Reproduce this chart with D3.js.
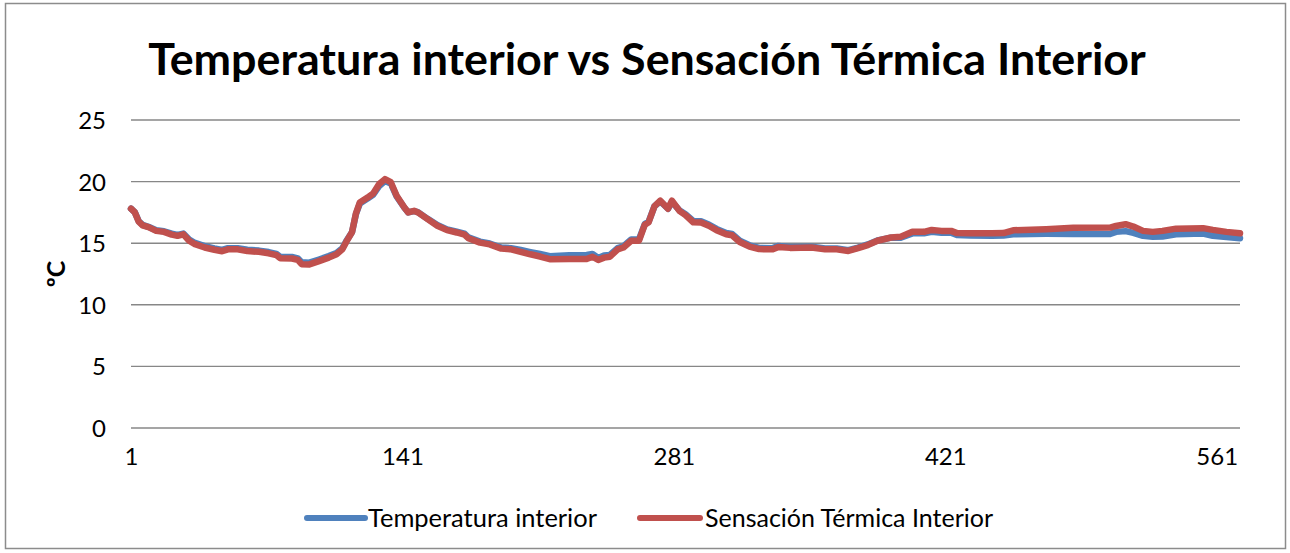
<!DOCTYPE html>
<html>
<head>
<meta charset="utf-8">
<script src="https://cdn.jsdelivr.net/npm/d3@7"></script>
<style>
  html, body { margin: 0; padding: 0; background: #fff; }
  svg { display: block; font-family: Lato, "Open Sans", sans-serif; }
</style>
</head>
<body>
<svg id="chart" width="1290" height="553"></svg>
<script>
// Reading number (x) for each recorded sample
const indices = [1,3,5,7,10,14,18,22,25,28,31,34,39,44,48,51,56,61,67,72,76,78,84,87,89,93,98,103,107,110,
  112,115,117,119,123,126,129,132,135,138,142,144,147,149,154,159,164,169,173,175,181,186,192,197,202,207,212,217,227,236,
  239,242,245,248,252,255,259,263,266,268,271,274,278,280,284,287,291,295,299,303,308,311,315,320,325,332,335,341,352,359,
  365,371,376,381,386,393,398,404,410,414,419,424,427,434,445,451,456,473,487,506,509,514,518,523,528,533,540,554,559,566,573];

// Temperatura interior (ºC)
const tempInterior = [17.8,17.5,16.78,16.48,16.33,16.05,15.97,15.77,15.67,15.78,15.3,15.02,14.76,14.58,14.46,14.6,14.6,14.47,14.4,14.28,14.13,13.9,13.88,13.77,13.45,13.42,13.68,13.95,14.2,14.58,
  15.15,15.9,17.35,18.22,18.62,18.95,19.65,20.05,19.85,18.8,17.88,17.5,17.6,17.52,16.98,16.48,16.12,15.93,15.77,15.48,15.13,14.98,14.65,14.6,14.45,14.28,14.12,13.95,14.02,14.05,
  14.12,13.8,14.0,14.05,14.6,14.75,15.3,15.3,16.55,16.75,18.0,18.4,17.8,18.35,17.65,17.35,16.8,16.78,16.52,16.16,15.83,15.75,15.2,14.83,14.62,14.6,14.78,14.7,14.72,14.57,
  14.57,14.43,14.65,14.9,15.22,15.45,15.45,15.8,15.8,15.92,15.85,15.85,15.66,15.62,15.6,15.62,15.72,15.76,15.75,15.75,15.92,15.98,15.84,15.6,15.52,15.55,15.73,15.78,15.6,15.5,15.4];

// Sensación Térmica Interior (ºC)
const sensTermica = [17.8,17.5,16.75,16.45,16.3,16.0,15.92,15.7,15.6,15.72,15.2,14.92,14.65,14.47,14.35,14.5,14.5,14.36,14.3,14.18,14.03,13.78,13.76,13.65,13.3,13.28,13.55,13.83,14.1,14.5,
  15.1,15.9,17.4,18.3,18.7,19.05,19.8,20.2,19.95,18.85,17.9,17.5,17.63,17.5,16.95,16.42,16.06,15.87,15.7,15.4,15.05,14.9,14.56,14.5,14.3,14.1,13.92,13.7,13.72,13.72,
  13.9,13.64,13.83,13.9,14.5,14.65,15.2,15.2,16.5,16.7,18.0,18.45,17.8,18.45,17.6,17.28,16.7,16.68,16.42,16.06,15.73,15.65,15.1,14.73,14.52,14.5,14.7,14.62,14.65,14.5,
  14.5,14.37,14.6,14.85,15.2,15.46,15.52,15.92,15.92,16.08,16.0,16.0,15.82,15.8,15.8,15.82,16.05,16.14,16.25,16.27,16.4,16.54,16.35,16.0,15.92,16.0,16.18,16.22,16.08,15.92,15.8];

const xTicks = [1, 141, 281, 421, 561];
const yTicks = [0, 5, 10, 15, 20, 25];
const seriesNames = ["Temperatura interior", "Sensación Térmica Interior"];
const seriesColors = ["#4F81BD", "#C0504D"];
const titleText = "Temperatura interior vs Sensación Térmica Interior";
const yLabel = "ºC";

const svg = d3.select("#chart");

// outer chart frame
svg.append("rect")
  .attr("x", 5.5).attr("y", 3.5)
  .attr("width", 1280).attr("height", 545)
  .attr("fill", "#fff").attr("stroke", "#8c8c8c").attr("stroke-width", 1.5);

const plot = { left: 131, right: 1240, top: 120, bottom: 428 };

const x = d3.scaleLinear().domain([1, 573]).range([plot.left, plot.right]);
const y = d3.scaleLinear().domain([0, 25]).range([plot.bottom, plot.top]);

// horizontal gridlines
svg.append("g")
  .selectAll("line")
  .data(yTicks)
  .join("line")
  .attr("x1", plot.left).attr("x2", plot.right)
  .attr("y1", d => y(d)).attr("y2", d => y(d))
  .attr("stroke", "#878787").attr("stroke-width", 1.4);

// y axis labels
const yAxis = d3.axisLeft(y).tickValues(yTicks).tickSize(0).tickPadding(0);
const gy = svg.append("g").attr("transform", `translate(${plot.left - 25},0)`).call(yAxis);
gy.select(".domain").remove();
gy.selectAll("text")
  .attr("font-family", "Lato, sans-serif")
  .attr("font-size", 24).attr("fill", "#000").attr("dy", "0.35em");

// x axis labels
const xAxis = d3.axisBottom(x).tickValues(xTicks).tickSize(0).tickPadding(0);
const gx = svg.append("g").attr("transform", `translate(0,${plot.bottom + 20})`).call(xAxis);
gx.select(".domain").remove();
gx.selectAll("text")
  .attr("font-family", "Lato, sans-serif")
  .attr("font-size", 24).attr("fill", "#000").attr("dy", "0.71em");

// series lines
const line = d3.line()
  .x((d, i) => x(indices[i]))
  .y(d => y(d))
  .curve(d3.curveLinear);

[tempInterior, sensTermica].forEach((vals, k) => {
  svg.append("path")
    .datum(vals)
    .attr("d", line)
    .attr("fill", "none")
    .attr("stroke", seriesColors[k])
    .attr("stroke-width", 6.5)
    .attr("stroke-linejoin", "round")
    .attr("stroke-linecap", "round");
});

// title
const title = svg.append("text")
  .attr("x", 647).attr("y", 75)
  .attr("text-anchor", "middle")
  .attr("font-family", "Lato, sans-serif")
  .attr("font-weight", "bold")
  .attr("font-size", 38)
  .attr("fill", "#000")
  .text(titleText);
const tw = title.node().getComputedTextLength();
title.attr("font-size", 38 * 998 / tw);

// y axis title
svg.append("text")
  .attr("transform", "translate(65,274) rotate(-90)")
  .attr("text-anchor", "middle")
  .attr("font-family", "Lato, sans-serif")
  .attr("font-weight", "bold")
  .attr("font-size", 25)
  .attr("fill", "#000")
  .text(yLabel);

// legend
const legendItems = [
  { x1: 307, x2: 365, tx: 368 },
  { x1: 640, x2: 700, tx: 705 }
];
const lg = svg.append("g");
legendItems.forEach((it, k) => {
  lg.append("line")
    .attr("x1", it.x1).attr("x2", it.x2)
    .attr("y1", 518).attr("y2", 518)
    .attr("stroke", seriesColors[k]).attr("stroke-width", 6)
    .attr("stroke-linecap", "round");
  const t = lg.append("text")
    .attr("x", it.tx).attr("y", 518)
    .attr("dy", "0.35em")
    .attr("font-family", "Lato, sans-serif")
    .attr("font-size", 25)
    .attr("fill", "#000")
    .text(seriesNames[k]);
  // first legend label spans about 229px
  if (k === 0) {
    const w = t.node().getComputedTextLength();
    lg.selectAll("text").attr("font-size", 25 * 229 / w);
  }
});
</script>
</body>
</html>
